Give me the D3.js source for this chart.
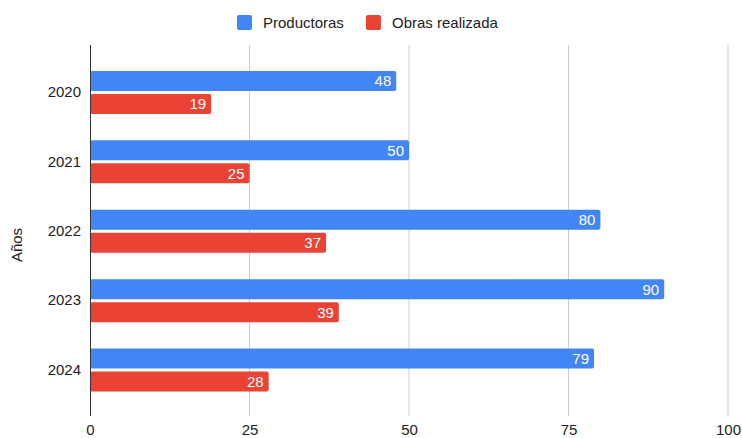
<!DOCTYPE html>
<html><head><meta charset="utf-8">
<script src="https://cdn.jsdelivr.net/npm/d3@7"></script>
<style>body{margin:0;background:#fff}svg{display:block;font-family:Arial,"Liberation Sans",sans-serif}</style>
</head><body><svg id="c" width="742" height="438"></svg>
<script>
const categories = ["2020","2021","2022","2023","2024"];
const seriesNames = ["Productoras","Obras realizada"];
const productoras = [48,50,80,90,79];
const obras = [19,25,37,39,28];
const xTicks = [0,25,50,75,100];
const colors = ["#4285F4","#EA4335"];
const FONT = 'Arial,"Liberation Sans",sans-serif';

const svg = d3.select("#c");
const x = d3.scaleLinear().domain([0,100]).range([90,728]);
const y = d3.scaleBand().domain(categories).range([57.8,404.7]).paddingInner(0).paddingOuter(0);
const barH = 20, gap = 3;
const plotTop = 45, plotBottom = 416;

// gridlines
svg.append("g").selectAll("line").data(xTicks.filter(d=>d>0)).join("line")
  .attr("x1",d=>x(d)).attr("x2",d=>x(d)).attr("y1",plotTop).attr("y2",plotBottom)
  .attr("stroke","#cccccc").attr("stroke-width",1);

// bars
const data = categories.map((c,i)=>({c, vals:[productoras[i], obras[i]]}));
const g = svg.append("g");
data.forEach(d=>{
  const cy = y(d.c) + y.bandwidth()/2;
  d.vals.forEach((v,k)=>{
    const top = k===0 ? cy - gap/2 - barH : cy + gap/2;
    g.append("rect").attr("x",x(0)).attr("y",top).attr("width",x(v)-x(0)).attr("height",barH)
      .attr("rx",2).attr("fill",colors[k]);
    g.append("text").attr("x",x(v)-5).attr("y",top+barH/2).attr("dy","0.36em")
      .attr("text-anchor","end").attr("fill","#fff").attr("font-size",15).text(v);
  });
});

// axis line at zero
svg.append("line").attr("x1",x(0)+0.5).attr("x2",x(0)+0.5).attr("y1",plotTop).attr("y2",plotBottom)
  .attr("stroke","#333").attr("stroke-width",1);

// x tick labels
const xAxis = d3.axisBottom(x).tickValues(xTicks).tickSize(0).tickPadding(0);
const xa = svg.append("g").attr("transform",`translate(0,${plotBottom+8.5})`).call(xAxis);
xa.select(".domain").remove();
xa.selectAll("text").attr("font-size",15).attr("fill","#222").attr("font-family",FONT);

// y labels
const yAxis = d3.axisLeft(y).tickSize(0).tickPadding(0);
const ya = svg.append("g").attr("transform",`translate(81,0)`).call(yAxis);
ya.select(".domain").remove();
ya.selectAll("text").attr("font-size",15).attr("fill","#222").attr("font-family",FONT);

// y title
svg.append("text").attr("transform","translate(22,245) rotate(-90)").attr("text-anchor","middle")
  .attr("font-size",15).attr("fill","#222").text("Años");

// legend
const leg = [{x:237,tx:263},{x:366,tx:392}];
seriesNames.forEach((n,i)=>{
  svg.append("rect").attr("x",leg[i].x).attr("y",15).attr("width",15).attr("height",15).attr("rx",2).attr("fill",colors[i]);
  svg.append("text").attr("x",leg[i].tx).attr("y",22.5).attr("dy","0.36em").attr("font-size",15).attr("fill","#222").text(n);
});
</script></body></html>
